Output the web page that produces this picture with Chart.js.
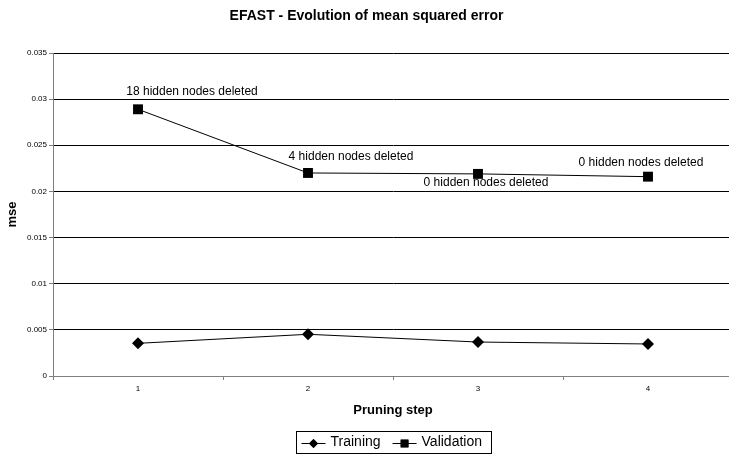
<!DOCTYPE html>
<html>
<head>
<meta charset="utf-8">
<script src="https://cdn.jsdelivr.net/npm/chart.js@4/dist/chart.umd.min.js"></script>
<style>
  html, body { margin: 0; padding: 0; background: #fff; overflow: hidden; }
  #wrap { width: 729px; height: 457px; position: relative; overflow: hidden; }
</style>
</head>
<body>
<div id="wrap"><canvas id="c" width="740" height="457"></canvas></div>
<script>
// Pruning steps on the x axis
const steps = ['1', '2', '3', '4'];
// Mean squared error per pruning step
const training = [0.00354, 0.00452, 0.00368, 0.00347];
const validation = [0.0289, 0.0220, 0.0219, 0.0216];
// Notes attached to the validation points
const pruningNotes = [
  '18 hidden nodes deleted',
  '4 hidden nodes deleted',
  '0 hidden nodes deleted',
  '0 hidden nodes deleted'
];
// Y axis ticks and their labels
const yTicks = [0, 0.005, 0.01, 0.015, 0.02, 0.025, 0.03, 0.035];
const yTickLabels = ['0', '0.005', '0.01', '0.015', '0.02', '0.025', '0.03', '0.035'];

const FONT = "'Liberation Sans', Arial, sans-serif";

// Text offsets of the notes relative to their point (pixels)
const noteOffsets = [[54, -17.5], [43, -16], [8, 9], [-7, -14]];

const notesPlugin = {
  id: 'notes',
  afterDatasetsDraw(chart) {
    const ctx = chart.ctx;
    const pts = chart.getDatasetMeta(1).data;
    ctx.save();
    ctx.font = '12px ' + FONT;
    ctx.fillStyle = '#000';
    ctx.textAlign = 'center';
    ctx.textBaseline = 'middle';
    pruningNotes.forEach((t, i) => {
      const p = pts[i];
      if (!p) return;
      ctx.fillText(t, p.x + noteOffsets[i][0], p.y + noteOffsets[i][1]);
    });
    ctx.restore();
  }
};

// Boxed legend below the x axis title, centred on the plot area
const boxLegend = {
  id: 'boxLegend',
  afterDraw(chart) {
    const ctx = chart.ctx;
    const area = chart.chartArea;
    const ds = chart.data.datasets;
    ctx.save();
    ctx.font = '14px ' + FONT;
    const lineLen = 24, gapAfterLine = 5, gapBetween = 12, padX = 5;
    const widths = ds.map(d => ctx.measureText(d.label).width);
    let total = padX * 2 + 4;
    widths.forEach((w, i) => { total += lineLen + gapAfterLine + w + (i < ds.length - 1 ? gapBetween : 0); });
    const cx = (area.left + area.right) / 2;
    const left = Math.round(cx - total / 2) + 0.5;
    const top = 431.5, h = 22;
    const cy = top + h / 2;
    ctx.strokeStyle = '#000';
    ctx.lineWidth = 1;
    ctx.strokeRect(left, top, Math.round(total), h);
    let x = left + padX;
    ds.forEach((d, i) => {
      ctx.beginPath();
      ctx.moveTo(x, Math.round(cy) + 0.5);
      ctx.lineTo(x + lineLen, Math.round(cy) + 0.5);
      ctx.strokeStyle = '#000';
      ctx.stroke();
      Chart.helpers.drawPoint(ctx, {
        pointStyle: d.pointStyle,
        radius: d.pointStyle === 'rect' ? 5.5 : 4.5,
        borderWidth: 0
      }, x + lineLen / 2, Math.round(cy) + 0.5);
      ctx.fillStyle = '#000';
      ctx.fill();
      x += lineLen + gapAfterLine;
      ctx.textAlign = 'left';
      ctx.textBaseline = 'middle';
      ctx.fillText(d.label, x, cy);
      x += widths[i] + gapBetween;
    });
    ctx.restore();
  }
};

new Chart(document.getElementById('c'), {
  type: 'line',
  data: {
    labels: steps,
    datasets: [
      {
        label: 'Training',
        data: training,
        borderColor: '#000',
        backgroundColor: '#000',
        borderWidth: 1,
        pointStyle: 'rectRot',
        pointRadius: 6,
        pointBorderWidth: 0,
        tension: 0
      },
      {
        label: 'Validation',
        data: validation,
        borderColor: '#000',
        backgroundColor: '#000',
        borderWidth: 1,
        pointStyle: 'rect',
        pointRadius: 7,
        pointBorderWidth: 0,
        tension: 0
      }
    ]
  },
  options: {
    responsive: false,
    animation: false,
    devicePixelRatio: 1,
    layout: { padding: { left: 0, right: 7, top: 0, bottom: 33 } },
    plugins: {
      legend: { display: false },
      tooltip: { enabled: false },
      title: {
        display: true,
        text: 'EFAST - Evolution of mean squared error',
        color: '#000',
        font: { family: FONT, size: 14, weight: 'bold' },
        padding: { top: 8, bottom: 28.2 }
      }
    },
    scales: {
      x: {
        type: 'category',
        offset: true,
        grid: { offset: true, drawOnChartArea: false, drawTicks: true, tickLength: 4, color: '#808080' },
        border: { color: '#808080' },
        ticks: { color: '#000', font: { family: FONT, size: 8 }, padding: 4, maxRotation: 0 },
        title: {
          display: true,
          text: 'Pruning step',
          color: '#000',
          font: { family: FONT, size: 13, weight: 'bold' },
          padding: { top: 0, bottom: 6 }
        },
        afterFit(s) { s.height = 48; }
      },
      y: {
        min: 0,
        max: 0.035,
        afterBuildTicks(s) { s.ticks = yTicks.map(v => ({ value: v })); },
        grid: { color: '#000', lineWidth: 1, tickLength: 4, tickColor: '#808080' },
        border: { color: '#808080' },
        ticks: {
          color: '#000',
          font: { family: FONT, size: 8 },
          padding: 2,
          callback: (v, i) => yTickLabels[i]
        },
        title: {
          display: true,
          text: 'mse',
          color: '#000',
          font: { family: FONT, size: 13, weight: 'bold' },
          padding: { top: 5, bottom: 0 }
        },
        afterFit(s) { s.width = 53; }
      }
    }
  },
  plugins: [notesPlugin, boxLegend]
});
</script>
</body>
</html>
